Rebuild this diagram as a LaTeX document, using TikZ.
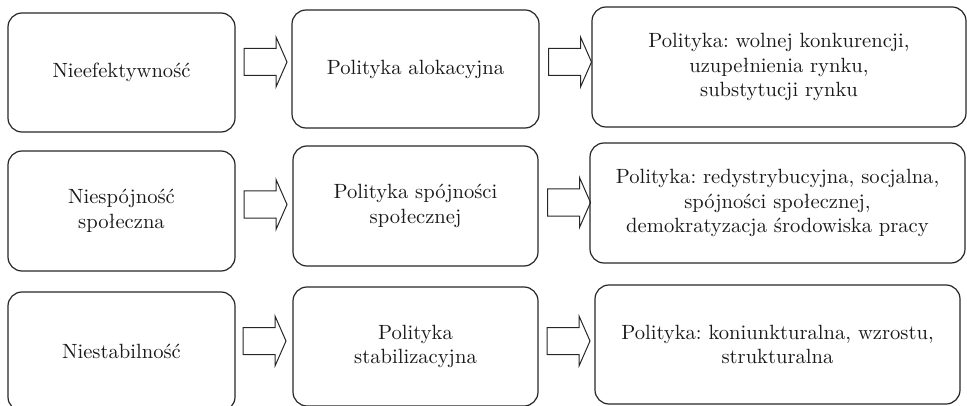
\documentclass[tikz,border=0pt]{standalone}
\usepackage{fontspec}
\frenchspacing
\begin{document}
\begin{tikzpicture}[x=0.5pt,y=-0.5pt,
  box/.style={draw=black!85, line width=0.6pt, rounded corners=7pt, align=center,
    inner sep=2pt, text=black!90, font=\fontsize{10.3}{12.4}\selectfont},
  barrow/.pic={\draw[line width=0.5pt, draw=black!85] (-21.5,-13.5) -- (10.5,-13.5) -- (10.5,-25) -- (21.5,0) -- (10.5,25) -- (10.5,13.5) -- (-21.5,13.5) -- cycle;}
]
\useasboundingbox (0,0) rectangle (967,406);
% row 1
\node[box, minimum width=113.5pt, minimum height=59.5pt] (a1) at (121.5,72.5) {Nieefektywność};
\node[box, minimum width=123.5pt, minimum height=59pt] (b1) at (415.5,69) {Polityka alokacyjna};
\node[box, minimum width=187pt, minimum height=60pt] (c1) at (779,67) {Polityka: wolnej konkurencji,\\uzupełnienia rynku,\\substytucji rynku};
% row 2
\node[box, minimum width=113.5pt, minimum height=60pt] (a2) at (121.5,211) {Niespójność\\społeczna};
\node[box, minimum width=122.5pt, minimum height=60pt] (b2) at (415.5,206) {Polityka spójności\\społecznej};
\node[box, minimum width=187.5pt, minimum height=60pt] (c2) at (777.5,203) {Polityka: redystrybucyjna, socjalna,\\spójności społecznej,\\demokratyzacja środowiska pracy};
% row 3
\node[box, minimum width=113.5pt, minimum height=59.5pt] (a3) at (121.5,351.5) {Niestabilność};
\node[box, minimum width=122.5pt, minimum height=59.5pt] (b3) at (415.5,346.5) {Polityka\\stabilizacyjna};
\node[box, minimum width=182.5pt, minimum height=59.5pt] (c3) at (777.5,344.5) {Polityka: koniunkturalna, wzrostu,\\strukturalna};
% block arrows
\pic (p1) at (265.5,62) {barrow};
\pic (q1) at (570,62) {barrow};
\pic (p2) at (265.5,204.5) {barrow};
\pic (q2) at (569,202.5) {barrow};
\pic (p3) at (264.5,341) {barrow};
\pic (q3) at (568.5,341) {barrow};
\end{tikzpicture}
\end{document}
